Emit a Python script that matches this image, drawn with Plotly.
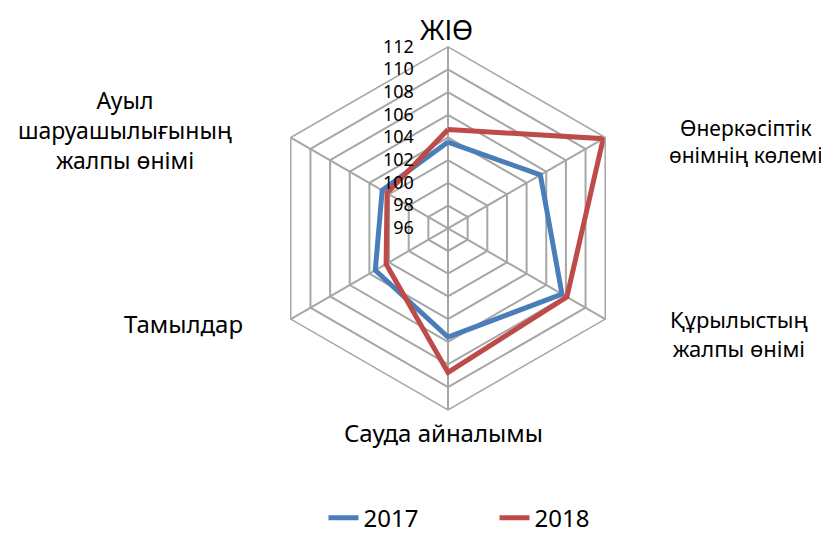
import plotly.graph_objects as go

categories = [
    "ЖІӨ",
    "Өнеркәсіптік<br>өнімнің көлемі",
    "Құрылыстың<br>жалпы өнімі",
    "Сауда айналымы",
    "Тамылдар",
    "Ауыл<br>шаруашылығының<br>жалпы өнімі",
]
values_2017 = [103.6, 105.4, 107.6, 105.6, 103.4, 102.7]
values_2018 = [104.7, 111.8, 108.1, 108.7, 102.3, 102.2]
radial_ticks = [96, 98, 100, 102, 104, 106, 108, 110, 112]

GRID = "#A6A6A6"
FONT = "Noto Sans"
W, H = 829, 533
R = 185
cx, cy = 440, 224.5

# where each category label sits (pixels from top-left), and its font size
label_pos = [(438, 22), (738, 136), (731, 332), (435, 433), (175, 322), (117, 124)]
label_size = [27, 21, 22, 24, 24, 23]


def closed(seq):
    return list(seq) + [seq[0]]


fig = go.Figure()
fig.add_trace(go.Scatterpolar(
    r=closed(values_2017), theta=closed(categories), mode="lines",
    name="2017", line=dict(color="#4A7EBB", width=5)
))
fig.add_trace(go.Scatterpolar(
    r=closed(values_2018), theta=closed(categories), mode="lines",
    name="2018", line=dict(color="#BE4B48", width=5)
))

for cat, (px_, py_), fs in zip(categories, label_pos, label_size):
    fig.add_annotation(
        text=cat, x=px_ / W, y=1 - py_ / H, xref="paper", yref="paper",
        xanchor="center", yanchor="middle", showarrow=False, align="center",
        font=dict(size=fs, color="black", family=FONT),
    )

fig.update_layout(
    width=W, height=H,
    margin=dict(l=0, r=0, t=0, b=0),
    paper_bgcolor="white",
    font=dict(family=FONT, size=22, color="black"),
    polar=dict(
        domain=dict(x=[(cx - R) / W, (cx + R) / W],
                    y=[(H - cy - R) / H, (H - cy + R) / H]),
        gridshape="linear",
        bgcolor="white",
        radialaxis=dict(
            range=[96, 112], tickvals=radial_ticks,
            ticktext=[f"{v}\u2007\u2007\u2007" for v in radial_ticks],
            angle=90, side="counterclockwise",
            showline=False, gridcolor=GRID, gridwidth=1.5,
            tickfont=dict(size=18), ticks="", tickangle=90,
        ),
        angularaxis=dict(
            rotation=90, direction="clockwise", showticklabels=False,
            linecolor=GRID, linewidth=1.5, gridcolor=GRID, gridwidth=1.5,
            ticks="",
        ),
    ),
    legend=dict(orientation="h", x=0.5 + 72 / W, xanchor="center", y=13 / H,
                yanchor="middle", font=dict(size=24), entrywidth=126),
)

fig.write_html("out.html")
